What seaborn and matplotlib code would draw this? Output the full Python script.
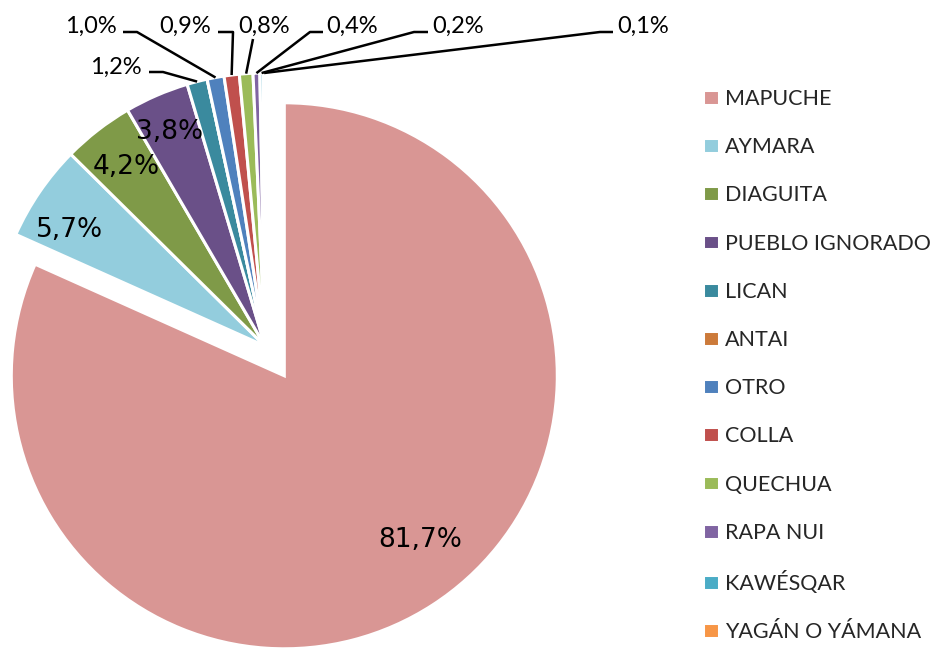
import matplotlib
matplotlib.use("Agg")
import numpy as np
import seaborn as sns
import matplotlib.pyplot as plt


pueblos = ["MAPUCHE", "AYMARA", "DIAGUITA", "PUEBLO IGNORADO", "LICAN", "ANTAI",
           "OTRO", "COLLA", "QUECHUA", "RAPA NUI", "KAWÉSQAR", "YAGÁN O YÁMANA"]
porcentajes = [81.7, 5.7, 4.2, 3.8, 1.2, 0.0, 1.0, 0.9, 0.8, 0.4, 0.2, 0.1]
colores = ["#D99694", "#93CDDD", "#7F9A48", "#6A5088", "#3A8A9E", "#CC7A3A",
           "#4F81BD", "#C0504D", "#9BBB59", "#8064A2", "#4BACC6", "#F79646"]

# pixel layout of the chart (940x650 figure)
CX, CY, R = 265, 346, 273


def px(x, y):
    # pixel coords (from top-left) -> data coords of the pie axes
    return ((x - CX) / R, (CY - y) / R)


# inside labels: slice -> text centre in pixels
inside = {
    "MAPUCHE": (420, 540),
    "AYMARA": (70, 230),
    "DIAGUITA": (126, 167),
    "PUEBLO IGNORADO": (170, 132),
}

# outside labels: slice -> (text centre, elbow, horizontal end) in pixels
leaders = {
    "LICAN": ((116, 67), (163, 72), (149, 72)),
    "OTRO": ((91, 26), (137, 32), (123, 32)),
    "COLLA": ((185, 26), (233, 32), (218, 32)),
    "QUECHUA": ((264, 26), (253, 39), (253, 39)),
    "RAPA NUI": ((352, 26), (310, 32), (323, 32)),
    "KAWÉSQAR": ((458, 26), (414, 32), (428, 32)),
    "YAGÁN O YÁMANA": ((643, 26), (600, 32), (613, 32)),
}


def fmt(v):
    return f"{v:.1f}".replace(".", ",") + "%"


def make_plot(filename):
    sns.set_theme(style="white")
    plt.rcParams["font.family"] = ["Lato", "DejaVu Sans"]
    palette = sns.color_palette(colores)

    fig = plt.figure(figsize=(9.4, 6.5), dpi=100)
    ax = fig.add_axes([0, 0, 1, 1])

    explode = [0.13] + [0.0] * (len(pueblos) - 1)
    wedges, _ = ax.pie(porcentajes, colors=palette, startangle=90, counterclock=False,
                       explode=explode, radius=1.0,
                       wedgeprops=dict(edgecolor="white", linewidth=2.2))

    x0, y1 = px(0, 0)
    x1, y0 = px(940, 650)
    ax.set_xlim(x0, x1)
    ax.set_ylim(y0, y1)
    ax.set_aspect("auto")
    ax.axis("off")

    # inside labels for the big slices
    for name, v in zip(pueblos, porcentajes):
        if name not in inside:
            continue
        ax.text(*px(*inside[name]), fmt(v), ha="center", va="center",
                fontsize=19, family="DejaVu Sans", color="black")

    # outside labels with leader lines
    for w, name, v in zip(wedges, pueblos, porcentajes):
        if name not in leaders:
            continue
        (tx, ty), elbow, hend = leaders[name]
        th = np.deg2rad((w.theta1 + w.theta2) / 2)
        cx, cy = w.center
        ex, ey = cx + w.r * np.cos(th), cy + w.r * np.sin(th)
        p1 = px(*elbow)
        p2 = px(*hend)
        ax.plot([ex, p1[0], p2[0]], [ey, p1[1], p2[1]], color="black", lw=1.8,
                solid_capstyle="butt", zorder=1)
        ax.text(*px(tx, ty), fmt(v), ha="center", va="center", fontsize=17, color="black")

    fig.legend(wedges, pueblos, loc="upper left", bbox_to_anchor=(703 / 940, 1 - 89 / 650),
               frameon=False, fontsize=15.5, handlelength=0.74, handleheight=0.68,
               handletextpad=0.3, labelspacing=1.31, borderpad=0, borderaxespad=0)

    fig.savefig(filename, dpi=100)


def main():
    make_plot("out.png")


main()
